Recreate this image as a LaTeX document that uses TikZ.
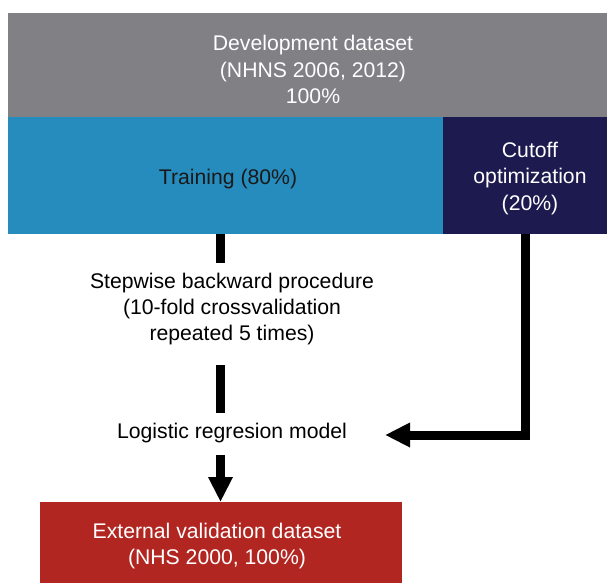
\documentclass[tikz,border=0pt]{standalone}
\usepackage{fontspec}
\setmainfont{Liberation Sans}
\usetikzlibrary{arrows.meta}
\definecolor{devgray}{HTML}{808085}
\definecolor{trainblue}{HTML}{268CBE}
\definecolor{cutnavy}{HTML}{1C1A4F}
\definecolor{extred}{HTML}{B22622}
\begin{document}
\begin{tikzpicture}[x=1pt,y=-1pt,
  box/.style={inner sep=0pt, outer sep=0pt, anchor=north west},
  lbl/.style={inner sep=0pt, align=center, font=\fontsize{21.2}{26.3}\selectfont},
  conn/.style={line width=9pt},
  arr/.style={line width=9pt, -{Triangle[length=25pt,width=23pt]}}]
\useasboundingbox (0,0) rectangle (607,583);
\node[box, fill=devgray, minimum width=599pt, minimum height=104pt] (dev) at (8,13) {};
\node[box, fill=trainblue, minimum width=435pt, minimum height=117pt] (train) at (8,117) {};
\node[box, fill=cutnavy, minimum width=164pt, minimum height=117pt] (cut) at (443,117) {};
\node[box, fill=extred, minimum width=362pt, minimum height=81pt] (ext) at (39.5,502) {};
\node[lbl, text=white] (devtxt) at (313,69.5) {Development dataset\\(NHNS 2006, 2012)\\100\%};
\node[lbl, text=black!90] (traintxt) at (228,179.5) {Training (80\%)};
\node[lbl, text=white] (cuttxt) at (530,178.5) {Cutoff\\optimization\\(20\%)};
\node[lbl] (stepw) at (232,309) {Stepwise backward procedure\\(10-fold crossvalidation\\repeated 5 times)};
\node[lbl, anchor=base] (logit) at (232,438.5) {Logistic regresion model};
\node[lbl, text=white] (exttxt) at (217,546) {External validation dataset\\(NHS 2000, 100\%)};
\coordinate (s1end) at (220.5,263);
\coordinate (s2start) at (220.5,365);
\coordinate (s2end) at (220.5,413);
\coordinate (a1start) at (220.5,455);
\coordinate (tip) at (385,435);
\draw[conn] (train.south -| ext.north) -- (s1end);
\draw[conn] (s2start) -- (s2end);
\draw[arr] (a1start) -- (ext.north);
\draw[arr] (cut.south) |- (tip);
\end{tikzpicture}
\end{document}
